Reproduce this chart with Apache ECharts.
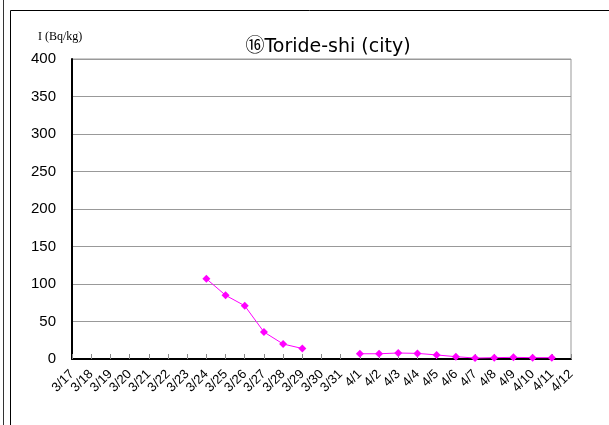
<!DOCTYPE html>
<html>
<head>
<meta charset="utf-8">
<script src="https://cdn.jsdelivr.net/npm/echarts@6/dist/echarts.min.js"></script>
<style>html,body{margin:0;padding:0;background:#fff;}#c{width:609px;height:425px;}</style>
</head>
<body>
<div id="c"></div>
<script>
var categories = ['3/17','3/18','3/19','3/20','3/21','3/22','3/23','3/24','3/25','3/26','3/27','3/28','3/29','3/30','3/31','4/1','4/2','4/3','4/4','4/5','4/6','4/7','4/8','4/9','4/10','4/11','4/12'];
var iodine = [null,null,null,null,null,null,null,107,85,71,36,20,14,null,null,7,7,8,7.5,5.4,3.1,1.3,1.8,2.2,1.8,1.8,null];
var yTicks = [0,50,100,150,200,250,300,350,400];
var titleText = '⑯Toride-shi (city)';
var unitText = 'I (Bq/kg)';

var chart = echarts.init(document.getElementById('c'), null, {renderer:'canvas'});
var fontFam = 'Liberation Sans, Arial, Noto Sans CJK JP, sans-serif';
chart.setOption({
  animation: false,
  backgroundColor: '#fff',
  title: [
    {text: titleText, left: 323, top: 33, textAlign: 'center',
     textStyle: {fontSize: 19, fontWeight: 'normal', color: '#000', fontFamily: 'DejaVu Sans, Noto Sans CJK JP, sans-serif'}},
    {text: unitText, left: 33, top: 26,
     textStyle: {fontSize: 12, fontWeight: 'normal', color: '#000', fontFamily: 'Liberation Serif, Noto Sans CJK JP, serif'}}
  ],
  graphic: [
    {type: 'line', shape: {x1: 3.5, y1: 0, x2: 3.5, y2: 425}, style: {stroke: '#333', lineWidth: 1}},
    {type: 'line', shape: {x1: 10.5, y1: 10.5, x2: 10.5, y2: 425}, style: {stroke: '#000', lineWidth: 1}},
    {type: 'line', shape: {x1: 10.5, y1: 10.5, x2: 609, y2: 10.5}, style: {stroke: '#000', lineWidth: 1}}
  ],
  grid: {left: 72, top: 59, width: 499, height: 300, show: true, borderColor: '#999', borderWidth: 1, containLabel: false},
  xAxis: {
    type: 'category', data: categories, boundaryGap: false,
    axisLine: {show: true, lineStyle: {color: '#000', width: 2}},
    axisTick: {show: true, inside: true, length: 5, lineStyle: {color: '#888'}},
    axisLabel: {rotate: 45, interval: 0, fontSize: 13, color: '#000', margin: 13, fontFamily: fontFam},
    splitLine: {show: false}
  },
  yAxis: {
    type: 'value', min: yTicks[0], max: yTicks[yTicks.length-1], interval: yTicks[1]-yTicks[0],
    axisLine: {show: true, lineStyle: {color: '#000', width: 2}},
    axisTick: {show: false},
    axisLabel: {fontSize: 15, color: '#000', margin: 16, fontFamily: fontFam},
    splitLine: {show: true, lineStyle: {color: '#999', width: 1}}
  },
  series: [{
    type: 'line', data: iodine, connectNulls: false,
    symbol: 'diamond', symbolSize: 8,
    lineStyle: {color: '#FF00FF', width: 1},
    itemStyle: {color: '#FF00FF'}
  }]
});
</script>
</body>
</html>
